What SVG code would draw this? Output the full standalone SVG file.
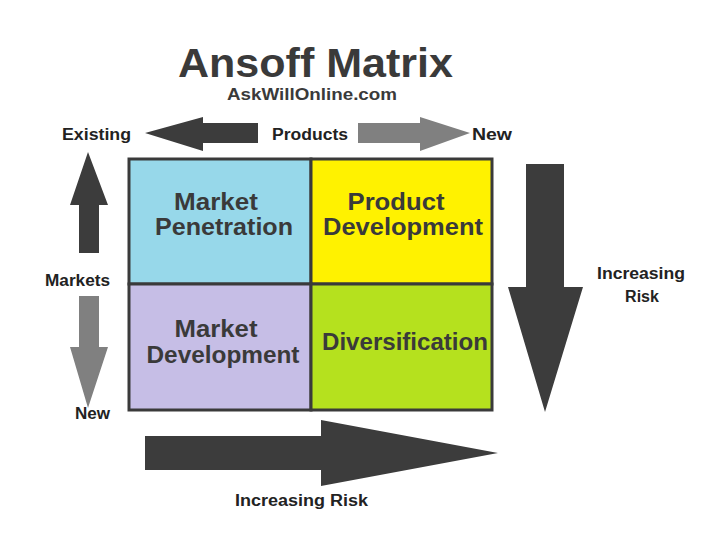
<svg xmlns="http://www.w3.org/2000/svg" width="720" height="540" viewBox="0 0 720 540">
<style>
.t{font-family:"Liberation Sans",Arial,sans-serif;font-weight:bold;fill:#3a3a3a}
.lab{font-family:"Liberation Sans",Arial,sans-serif;font-weight:bold;fill:#222;font-size:16px}
.cell{stroke:#3a3a3a;stroke-width:3}
.ct{font-family:"Liberation Sans",Arial,sans-serif;font-weight:bold;fill:#3a3a3a;font-size:23px;text-anchor:middle}
.dark{fill:#3c3c3c}
.gray{fill:#808080}
</style>
<rect width="720" height="540" fill="#fff"/>
<g id="title">
<text class="t" x="178" y="77" font-size="40" textLength="275" lengthAdjust="spacingAndGlyphs">Ansoff Matrix</text>
<text class="t" x="227" y="100" font-size="16" textLength="170" lengthAdjust="spacingAndGlyphs">AskWillOnline.com</text>
</g>
<g id="labels">
<text class="lab" x="62" y="140" textLength="69" lengthAdjust="spacingAndGlyphs">Existing</text>
<text class="lab" x="272" y="140" textLength="76" lengthAdjust="spacingAndGlyphs">Products</text>
<text class="lab" x="472" y="140" textLength="40" lengthAdjust="spacingAndGlyphs">New</text>
<text class="lab" x="45" y="286" textLength="65" lengthAdjust="spacingAndGlyphs">Markets</text>
<text class="lab" x="75" y="419" textLength="35" lengthAdjust="spacingAndGlyphs">New</text>
<text class="lab" x="597" y="279" textLength="88" lengthAdjust="spacingAndGlyphs">Increasing</text>
<text class="lab" x="642" y="302" text-anchor="middle">Risk</text>
<text class="lab" x="235" y="506" textLength="133" lengthAdjust="spacingAndGlyphs">Increasing Risk</text>
</g>
<g id="connectors">
<polygon class="dark" points="145,133 203,117 203,123 258,123 258,143 203,143 203,151"/>
<polygon class="gray" points="470,133 420,117 420,123 358,123 358,143 420,143 420,151"/>
<polygon class="dark" points="88,152 108,205 99,205 99,253 79,253 79,205 70,205"/>
<polygon class="gray" points="88,408 108,347 99,347 99,296 79,296 79,347 70,347"/>
<polygon class="dark" points="545,412 583,287 564,287 564,164 526,164 526,287 508,287"/>
<polygon class="dark" points="498,453 321,420 321,436 145,436 145,470 321,470 321,486"/>
</g>
<g id="market-penetration">
<rect class="cell" x="129" y="159" width="182" height="125" fill="#97d8ea"/>
<text class="ct" x="216" y="210" textLength="84" lengthAdjust="spacingAndGlyphs">Market</text>
<text class="ct" x="224" y="235" textLength="138" lengthAdjust="spacingAndGlyphs">Penetration</text>
</g>
<g id="product-development">
<rect class="cell" x="311" y="159" width="181" height="125" fill="#fff200"/>
<text class="ct" x="396" y="210" textLength="97" lengthAdjust="spacingAndGlyphs">Product</text>
<text class="ct" x="403" y="235" textLength="160" lengthAdjust="spacingAndGlyphs">Development</text>
</g>
<g id="market-development">
<rect class="cell" x="129" y="284" width="182" height="126" fill="#c6bee6"/>
<text class="ct" x="216" y="337" textLength="83" lengthAdjust="spacingAndGlyphs">Market</text>
<text class="ct" x="223" y="363" textLength="153" lengthAdjust="spacingAndGlyphs">Development</text>
</g>
<g id="diversification">
<rect class="cell" x="311" y="284" width="181" height="126" fill="#b5e11e"/>
<text class="ct" x="405" y="350" textLength="166" lengthAdjust="spacingAndGlyphs">Diversification</text>
</g>
</svg>
